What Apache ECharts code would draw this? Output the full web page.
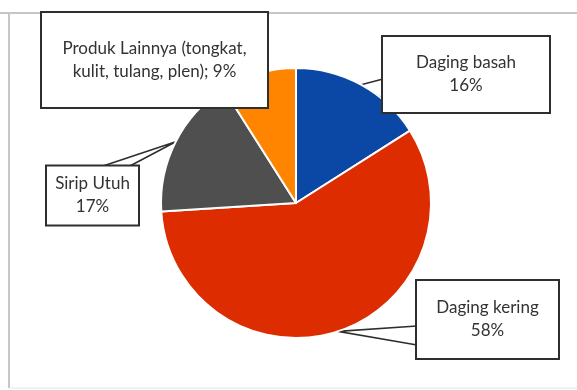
<!DOCTYPE html>
<html>
<head>
<meta charset="utf-8">
<script src="https://cdn.jsdelivr.net/npm/echarts@6/dist/echarts.min.js"></script>
<style>
  html, body { margin: 0; padding: 0; background: #ffffff; }
  #chart { width: 577px; height: 390px; }
</style>
</head>
<body>
<div id="chart"></div>
<script>
// Product shares (percent), clockwise from twelve o'clock
const categories = ['Daging basah', 'Daging kering', 'Sirip Utuh', 'Produk Lainnya (tongkat,\nkulit, tulang, plen)'];
const shares = [16, 58, 17, 9];
const sliceColors = ['#0b48a6', '#dc2c00', '#4f4f4f', '#ff8500'];

// Callout boxes: centre, content width, vertical padding, and where the pointer joins the box
const callouts = [
  { cx: 466, cy: 74.5, w: 166, padV: 14.5, base: [[383, 79], [383, 99]] },
  { cx: 487.5, cy: 319.5, w: 141, padV: 15.5, base: [[417, 326], [417, 345]] },
  { cx: 92.5, cy: 195.5, w: 91, padV: 6, base: [[100, 167], [128, 167]] },
  { cx: 154.5, cy: 60, w: 225, padV: 24, base: null }
];

const chart = echarts.init(document.getElementById('chart'), null, { renderer: 'canvas' });

const pieData = categories.map(function (name, i) {
  const c = callouts[i];
  return {
    name: name,
    value: shares[i],
    itemStyle: { color: sliceColors[i] },
    label: { width: c.w, padding: [c.padV, 0, c.padV, 0] },
    labelLine: { show: c.base !== null }
  };
});

// chart-area frame: top, left and bottom edges only
const frameStyle = { stroke: '#c6c6c6', lineWidth: 2 };

chart.setOption({
  animation: false,
  backgroundColor: '#ffffff',
  graphic: [
    { type: 'line', z: -10, shape: { x1: 0, y1: 13, x2: 577, y2: 13 }, style: frameStyle },
    { type: 'line', z: -10, shape: { x1: 9, y1: 13, x2: 9, y2: 388 }, style: frameStyle },
    { type: 'line', z: -10, shape: { x1: 9, y1: 388, x2: 577, y2: 388 }, style: { stroke: '#e4e4e4', lineWidth: 1 } }
  ],
  series: [{
    type: 'pie',
    center: [296, 203],
    radius: 135,
    startAngle: 90,
    clockwise: true,
    avoidLabelOverlap: false,
    emphasis: { disabled: true },
    itemStyle: { borderColor: '#ffffff', borderWidth: 2 },
    label: {
      show: true,
      position: 'outside',
      fontFamily: 'Lato',
      fontSize: 17,
      lineHeight: 23,
      color: '#333333',
      align: 'center',
      backgroundColor: '#ffffff',
      borderColor: '#2e2e2e',
      borderWidth: 2,
      formatter: function (p) {
        return p.dataIndex === 3 ? p.name + '; ' + p.value + '%' : p.name + '\n' + p.value + '%';
      }
    },
    labelLine: {
      show: true,
      length: 10,
      length2: 10,
      lineStyle: { color: '#2e2e2e', width: 1.6 }
    },
    labelLayout: function (p) {
      const c = callouts[p.dataIndex];
      const out = { x: c.cx, y: c.cy, align: 'center', verticalAlign: 'middle' };
      if (c.base && p.labelLinePoints) {
        const tip = p.labelLinePoints[0];
        out.labelLinePoints = [c.base[0], tip, c.base[1]];
      }
      return out;
    },
    data: pieData
  }]
});
</script>
</body>
</html>
